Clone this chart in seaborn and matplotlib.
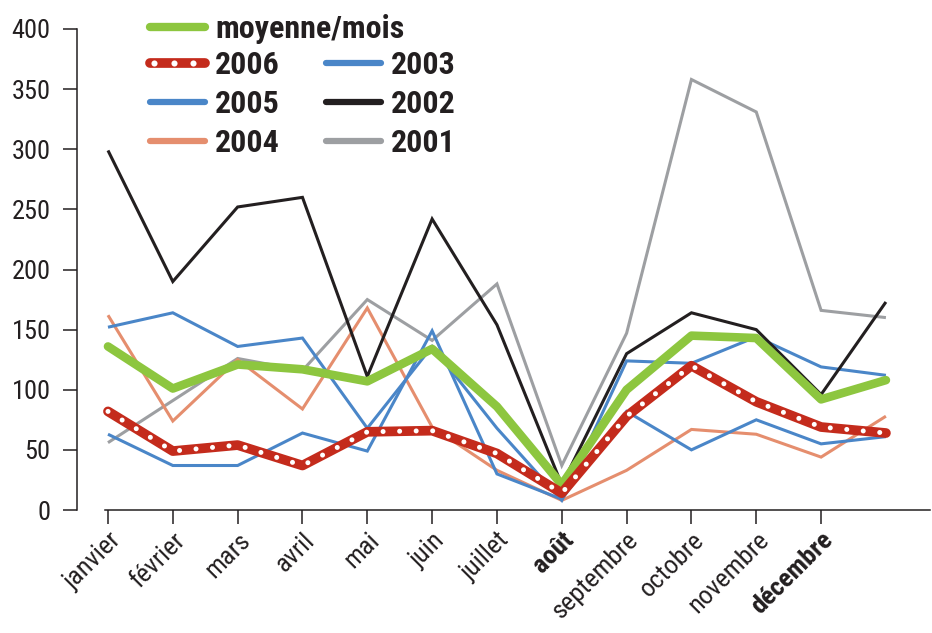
import matplotlib
matplotlib.use("Agg")
import matplotlib.pyplot as plt
import seaborn as sns
import pandas as pd
from matplotlib import font_manager
from matplotlib.lines import Line2D
from matplotlib.legend_handler import HandlerBase

# ---------------- data ----------------
months = ["janvier", "février", "mars", "avril", "mai", "juin", "juillet",
          "août", "septembre", "octobre", "novembre", "décembre"]
bold_months = ["août", "décembre"]
positions = list(range(13))  # 12 months + one trailing point

moyenne = [136, 101, 121, 117, 107, 134, 86, 21, 100, 145, 143, 92, 108]
y2006 = [82, 49, 54, 37, 65, 66, 47, 14, 78, 120, 90, 69, 64]
y2005 = [152, 164, 136, 143, 68, 136, 68, 8, 124, 122, 144, 119, 112]
y2004 = [162, 74, 125, 84, 168, 69, 33, 8, 33, 67, 63, 44, 78]
y2003 = [63, 37, 37, 64, 49, 149, 30, 9, 82, 50, 75, 55, 61]
y2002 = [299, 190, 252, 260, 111, 242, 154, 21, 130, 164, 150, 96, 173]
y2001 = [56, 91, 126, 116, 175, 141, 188, 37, 147, 358, 331, 166, 160]

yticks = [0, 50, 100, 150, 200, 250, 300, 350, 400]

# ---------------- style ----------------
sns.set_style("white")
avail = {f.name for f in font_manager.fontManager.ttflist}
FONT = "DejaVu Sans"
for cand in ["Liberation Sans Narrow", "Roboto Condensed", "Open Sans", "Noto Sans"]:
    if cand in avail:
        FONT = cand
        break
plt.rcParams["font.family"] = [FONT, "DejaVu Sans"]

INK = "#231f20"
C_GREEN = "#8dc63f"
C_RED = "#c42b1c"
C_BLUE = "#4a86c8"
C_BLACK = "#231f20"
C_GRAY = "#9d9fa2"
C_SALMON = "#e58e6e"

fig = plt.figure(figsize=(9.32, 6.33), dpi=100)
ax = fig.add_axes([77 / 932, 1 - 510 / 633, (930 - 77) / 932, (510 - 29) / 633])

thin = dict(linewidth=2.2, solid_joinstyle="miter", solid_capstyle="butt", clip_on=False)

sns.lineplot(x=positions, y=y2001, ax=ax, color=C_GRAY, **thin)
sns.lineplot(x=positions, y=y2004, ax=ax, color=C_SALMON, **thin)
sns.lineplot(x=positions, y=y2003, ax=ax, color=C_BLUE, **thin)
sns.lineplot(x=positions, y=y2005, ax=ax, color=C_BLUE, **thin)
sns.lineplot(x=positions, y=y2002, ax=ax, color=C_BLACK, **thin)
sns.lineplot(x=positions, y=moyenne, ax=ax, color=C_GREEN, linewidth=6.2,
             solid_capstyle="round", solid_joinstyle="round", clip_on=False)
sns.lineplot(x=positions, y=y2006, ax=ax, color=C_RED, linewidth=7,
             solid_capstyle="round", solid_joinstyle="round", clip_on=False)
sns.lineplot(x=positions, y=y2006, ax=ax, color="white", linewidth=3.6,
             linestyle=(0, (0.01, 3.3)), dash_capstyle="round", clip_on=False)

ax.set_xlim(-0.478, 12.68)
ax.set_ylim(0, 400)
ax.set_xlabel("")
ax.set_ylabel("")

for s in ["top", "right"]:
    ax.spines[s].set_visible(False)
for s in ["left", "bottom"]:
    ax.spines[s].set_color(INK)
    ax.spines[s].set_linewidth(1.1)
ax.spines["bottom"].set_bounds(-0.046, 12.68)

ax.set_yticks(yticks)
ax.set_yticklabels([str(v) for v in yticks])
ax.set_xticks(range(len(months)))
ax.set_xticklabels(months, rotation=45, ha="right", va="top", rotation_mode="anchor")
for lab in ax.get_xticklabels():
    if lab.get_text() in bold_months:
        lab.set_fontweight("bold")

ax.tick_params(axis="y", direction="out", length=10, width=1.1, pad=9,
               labelsize=19, colors=INK, left=True)
ax.tick_params(axis="x", direction="out", length=10, width=1.1, pad=3,
               labelsize=19, colors=INK, bottom=True)

# ---------------- legend ----------------
def lh(color, lw=4.5):
    return Line2D([], [], color=color, linewidth=lw, solid_capstyle="round")


class DottedHandler(HandlerBase):
    """Red thick bar with three white dots, as in the reference legend."""
    def create_artists(self, legend, orig_handle, xdescent, ydescent,
                       width, height, fontsize, trans):
        y = height / 2 - ydescent
        x0 = -xdescent
        base = Line2D([x0, x0 + width], [y, y], color=C_RED, linewidth=7,
                      solid_capstyle="round", transform=trans)
        fr = [0.08, 0.43, 0.78]
        dots = Line2D([x0 + f * width for f in fr], [y] * 3, linestyle="none",
                      marker="o", markersize=4.4, markerfacecolor="white",
                      markeredgewidth=0, transform=trans)
        return [base, dots]


red_h = Line2D([], [], color=C_RED, linewidth=7)

LEG_FS = 23
leg_kw = dict(frameon=False, handlelength=1.72, handletextpad=0.32,
              borderpad=0, borderaxespad=0, labelspacing=0.29, numpoints=1,
              prop={"weight": "bold", "size": LEG_FS}, loc="center left")

leg1 = fig.legend([lh(C_GREEN, 6)], ["moyenne/mois"],
                  bbox_to_anchor=(150 / 932, 1 - 29 / 633), **leg_kw)
for t in leg1.get_texts():
    t.set_color(INK)

leg2 = fig.legend([red_h, lh(C_BLUE), lh(C_SALMON), lh(C_BLUE), lh(C_BLACK), lh(C_GRAY)],
                  ["2006", "2005", "2004", "2003", "2002", "2001"],
                  ncol=2, columnspacing=1.44,
                  handler_map={red_h: DottedHandler()},
                  bbox_to_anchor=(150 / 932, 1 - 104 / 633), **leg_kw)
for t in leg2.get_texts():
    t.set_color(INK)

fig.savefig("out.png", dpi=100, facecolor="white")
